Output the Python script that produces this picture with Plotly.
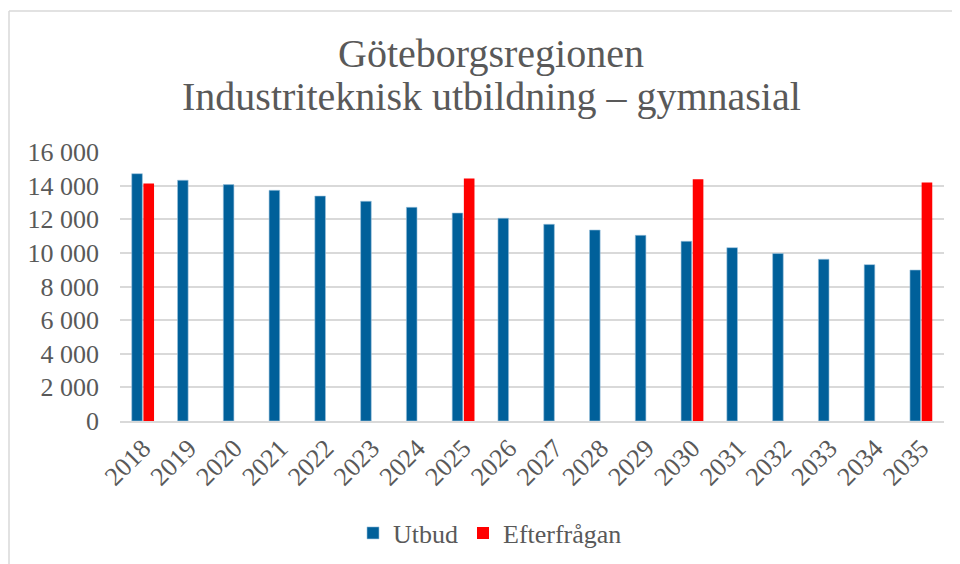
import plotly.graph_objects as go

years = [str(y) for y in range(2018, 2036)]
utbud = [14710, 14320, 14060, 13720, 13380, 13070, 12710, 12370, 12060, 11700,
         11360, 11045, 10690, 10310, 9960, 9620, 9300, 8980]
efterfragan = [14120, None, None, None, None, None, None, 14420, None, None,
               None, None, 14380, None, None, None, None, 14180]
y_ticks = [0, 2000, 4000, 6000, 8000, 10000, 12000, 14000, 16000]
y_tick_labels = ["0", "2 000", "4 000", "6 000", "8 000", "10 000", "12 000", "14 000", "16 000"]
title_line1 = "Göteborgsregionen"
title_line2 = "Industriteknisk utbildning – gymnasial"

FONT = "Liberation Serif"
GREY = "#595959"

fig = go.Figure()
fig.add_trace(go.Bar(name="Utbud", x=years, y=utbud,
                     marker=dict(color="#00609A", line=dict(color="#9cc3dd", width=0.6))))
fig.add_trace(go.Bar(name="Efterfrågan", x=years, y=efterfragan,
                     marker=dict(color="#FF0000", line=dict(width=0))))

# the page body has an 8px margin: work in figure pixels = screen pixels - 8
OFF = 8
W, H = 960 - OFF, 564 - OFF
L, T = 120 - OFF, 152 - OFF
pw, ph = 824, 269
R, B = W - L - pw, H - T - ph


def px(xs):
    return (xs - OFF - L) / pw


def py(ys):
    return (T + ph - (ys - OFF)) / ph


fig.update_layout(
    width=W, height=H,
    margin=dict(l=L, r=R, t=T, b=B, autoexpand=False),
    paper_bgcolor="white", plot_bgcolor="white",
    barmode="group", bargap=0.49, bargroupgap=0.09,
    font=dict(family=FONT, color=GREY, size=26),
    title=dict(
        text=title_line1,
        x=(491 - OFF) / W, xanchor="center", y=1 - (53 - OFF) / H, yanchor="middle",
        font=dict(family=FONT, size=40, color=GREY),
    ),
    annotations=[
        dict(text=title_line2, xref="paper", yref="paper", x=px(491), y=py(97),
             xanchor="center", yanchor="middle", showarrow=False,
             font=dict(family=FONT, size=40, color=GREY)),
    ],
    showlegend=True,
    legend=dict(orientation="h", x=px(353), xanchor="left", y=py(533), yanchor="middle",
                font=dict(family=FONT, size=26, color=GREY), itemwidth=30,
                bgcolor="rgba(0,0,0,0)"),
    xaxis=dict(type="category", tickangle=-45, showgrid=False, showline=True, automargin=False,
               linecolor="#d9d9d9", linewidth=1.5, ticks="", tickfont=dict(size=26, color=GREY)),
    yaxis=dict(range=[0, 16000], tickvals=y_ticks, ticktext=y_tick_labels, automargin=False,
               showgrid=True, gridcolor="#d9d9d9", gridwidth=1.5, zeroline=False,
               showline=False, ticks="", ticklabelstandoff=20, tickfont=dict(size=26, color=GREY)),
    shapes=[
        dict(type="line", xref="paper", yref="paper", x0=px(9), x1=px(975), y0=py(11), y1=py(11),
             line=dict(color="#d9d9d9", width=1.5)),
        dict(type="line", xref="paper", yref="paper", x0=px(9), x1=px(9), y0=py(11), y1=py(580),
             line=dict(color="#d9d9d9", width=1.5)),
    ],
)

fig.write_html("out.html")
